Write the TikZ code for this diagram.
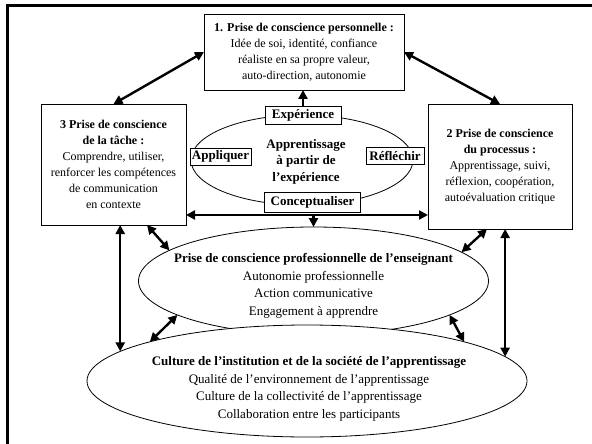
\documentclass[tikz,border=0pt]{standalone}
\usepackage{fontspec}
\setmainfont{Liberation Serif}
\usetikzlibrary{shapes.geometric,arrows.meta}
\begin{document}
\begin{tikzpicture}[x=1pt,y=-1pt,
  every node/.style={font=\fontsize{12}{16}\selectfont, inner sep=0pt, outer sep=0pt},
  box/.style={draw, line width=0.8pt, align=center, fill=white},
  lab/.style={draw, line width=0.8pt, fill=white, font=\fontsize{13}{16}\selectfont\bfseries},
  oval/.style={draw, ellipse, line width=0.8pt, fill=white},
  txt/.style={align=center, font=\fontsize{13}{17.5}\selectfont},
  arr/.style={line width=2.4pt, -{Triangle[length=9pt,width=9pt]}},
  dbl/.style={line width=2.4pt, {Triangle[length=9pt,width=9pt]}-{Triangle[length=9pt,width=9pt]}},
  frame/.style={line width=2.6pt}
]
\useasboundingbox (0,0) rectangle (592,444);
\draw[frame] (7.5,444) -- (7.5,5.5) -- (592,5.5);

% boxes
\node[box, minimum width=200pt, minimum height=76pt] (b1) at (304,52)
  {\textbf{1. Prise de conscience personnelle :}\\ Idée de soi, identité, confiance\\ réaliste en sa propre valeur,\\ auto-direction, autonomie};
\node[box, minimum width=145pt, minimum height=121pt] (b3) at (113.5,164.5)
  {\textbf{3 Prise de conscience}\\ \textbf{de la tâche :}\\ Comprendre, utiliser,\\ renforcer les compétences\\ de communication\\ en contexte};
\node[box, minimum width=144pt, minimum height=125pt] (b2) at (500,166.5)
  {\textbf{2 Prise de conscience}\\ \textbf{du processus :}\\ Apprentissage, suivi,\\ réflexion, coopération,\\ autoévaluation critique};

% small cycle
\node[oval, minimum width=222pt, minimum height=90pt] (e0) at (302,160) {};
\node[txt, font=\fontsize{13}{16.5}\selectfont\bfseries] (t0) at (306,161.5) {Apprentissage\\ à partir de\\ l’expérience};
\node[lab, minimum width=76pt, minimum height=18pt] (exp) at (303,115) {Expérience};
\node[lab, minimum width=61pt, minimum height=17pt] (app) at (220.5,156.5) {Appliquer};
\node[lab, minimum width=58pt, minimum height=17pt] (ref) at (395,156) {Réfléchir};
\node[lab, minimum width=96pt, minimum height=20pt] (con) at (312.5,202) {Conceptualiser};

% big ellipses
\node[oval, minimum width=350pt, minimum height=108pt] (e1) at (313.5,281) {};
\node[txt] (t1) at (313.5,286) {\textbf{Prise de conscience professionnelle de l’enseignant}\\ Autonomie professionnelle\\ Action communicative\\ Engagement à apprendre};
\node[oval, minimum width=440pt, minimum height=112pt] (e2) at (307,381) {};
\node[txt] (t2) at (309,389) {\textbf{Culture de l’institution et de la société de l’apprentissage}\\ Qualité de l’environnement de l’apprentissage\\ Culture de la collectivité de l’apprentissage\\ Collaboration entre les participants};

% connectors
\coordinate (h) at (313.5,215);
\draw[dbl] (b3.north) -- (b1.west);
\draw[dbl] (b1.east) -- (b2.north);
\draw[arr] (exp.north) -- (exp.north |- b1.south);
\draw[dbl] (b3.east |- h) -- (b2.west |- h);
\draw[arr] (h) -- (e1.north);
\draw[dbl] ([xshift=33.5pt]b3.south) -- (e1.168);
\draw[dbl] ([xshift=-13pt]b2.south) -- (e1.11);
\draw[dbl] (e2.171) -- (e2.171 |- b3.south);
\draw[dbl] (e2.7) -- (e2.7 |- b2.south);
\draw[dbl] (e1.194) -- (e2.166);
\draw[dbl] (e1.346) -- (e2.14);
\end{tikzpicture}
\end{document}
